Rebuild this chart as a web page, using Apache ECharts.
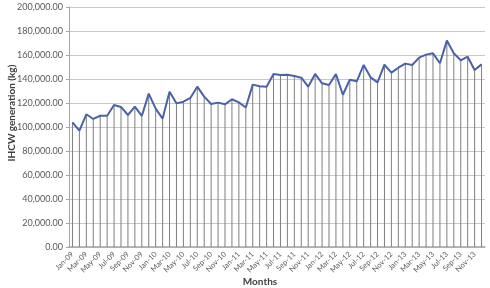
<!DOCTYPE html>
<html>
<head>
<meta charset="utf-8">
<script src="https://cdn.jsdelivr.net/npm/echarts@6/dist/echarts.min.js"></script>
<style>
  html, body { margin: 0; padding: 0; background: #fff; }
  #main { width: 490px; height: 288px; }
</style>
</head>
<body>
<div id="main"></div>
<script>
// months Jan-09 .. Dec-13
var monthNames = ['Jan', 'Feb', 'Mar', 'Apr', 'May', 'Jun', 'Jul', 'Aug', 'Sep', 'Oct', 'Nov', 'Dec']
var years = ['09', '10', '11', '12', '13']
var months = []
years.forEach(function (y) {
  monthNames.forEach(function (m) { months.push(m + '-' + y) })
})

// IHCW generation (kg)
var ihcw = [
  103900, 96900, 110600, 106700, 109400, 109400, 118300, 116700, 110000, 117000, 109200, 127800,
  115300, 107000, 129400, 119700, 121100, 124200, 133600, 125300, 119200, 120300, 118900, 123100,
  120500, 116200, 135300, 133900, 133600, 144200, 143300, 143600, 142500, 141100, 133600, 144200,
  136400, 135000, 144200, 126900, 139400, 138100, 151700, 141400, 137200, 151900, 145300, 149400,
  152800, 151700, 157800, 160300, 161400, 153100, 172000, 161400, 155600, 158600, 147500, 152200
]

var myChart = echarts.init(document.getElementById('main'))

var labelFont = 'Lato, "Open Sans", sans-serif'

var option = {
  animation: false,
  grid: { left: 69, right: 5, top: 7, bottom: 41, outerBoundsMode: 'none', containLabel: false },
  xAxis: {
    type: 'category',
    data: months,
    name: 'Months',
    nameLocation: 'middle',
    nameGap: 30,
    nameMoveOverlap: false,
    nameTextStyle: { fontFamily: labelFont, fontWeight: 'bold', fontSize: 10, color: '#404040', padding: [0, 34, 0, 0] },
    axisLine: { lineStyle: { color: '#a6a6a6', width: 1.5 } },
    axisTick: { show: false },
    axisLabel: {
      interval: 1,
      rotate: 45,
      fontSize: 7.5,
      color: '#595959',
      fontFamily: labelFont,
      margin: 6
    },
    splitLine: { show: false }
  },
  yAxis: {
    type: 'value',
    min: 0,
    max: 200000,
    interval: 20000,
    name: 'IHCW generation (kg)',
    nameLocation: 'middle',
    nameGap: 52,
    nameMoveOverlap: false,
    nameTextStyle: { fontFamily: labelFont, fontWeight: 'bold', fontSize: 10, color: '#404040', padding: [0, 0, 0, 28] },
    axisLine: { show: true, lineStyle: { color: '#a6a6a6' } },
    axisTick: { show: true, length: 3, lineStyle: { color: '#a6a6a6' } },
    axisLabel: {
      fontSize: 9,
      color: '#595959',
      fontFamily: labelFont,
      margin: 6,
      formatter: function (v) {
        return v.toLocaleString('en-US', { minimumFractionDigits: 2, maximumFractionDigits: 2 })
      }
    },
    splitLine: { lineStyle: { color: '#c8c8c8', width: 1 } }
  },
  series: [
    {
      // drop lines
      type: 'bar',
      data: ihcw,
      barWidth: 1,
      itemStyle: { color: '#7f7f7f' },
      silent: true
    },
    {
      type: 'line',
      data: ihcw,
      symbol: 'none',
      lineStyle: { color: '#4a62a8', width: 2 },
      z: 3
    }
  ]
}

myChart.setOption(option)
</script>
</body>
</html>
